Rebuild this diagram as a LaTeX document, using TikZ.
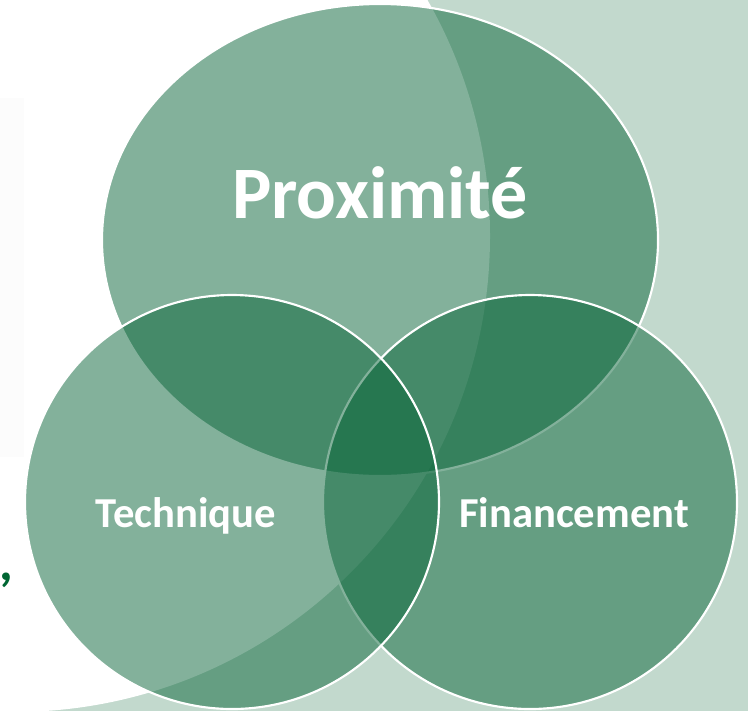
\documentclass[tikz,border=0pt]{standalone}
\usepackage{xcolor}
\usepackage{tikz}
\usepackage{fontspec}
\setmainfont{Carlito}
\definecolor{vennfill}{RGB}{9,101,57}
\definecolor{palebg}{RGB}{194,217,205}
\definecolor{commagreen}{RGB}{0,102,51}
\newcommand{\vennalpha}{0.5}

\begin{document}
\begin{tikzpicture}[x=0.75pt, y=0.75pt,
		vennset/.style={fill=vennfill, fill opacity=\vennalpha, draw=white, draw opacity=1, line width=1.6pt},
		venntext/.style={text=white, anchor=base, font=\bfseries\fontsize{32}{38}\selectfont}]
		\useasboundingbox (0,0) rectangle (748,-711);
		\clip (0,0) rectangle (748,-711);
		% Background
		\fill[palebg] (0,0) rectangle (748,-711);
		\fill[white] (14,-236) circle[radius=476];
		\fill[black!1] (0,-98) rectangle (24,-457);
		\node[text=commagreen, anchor=base, font=\bfseries\fontsize{40}{48}\selectfont, inner sep=0pt]
			(comma) at (6,-580) {,};
		% Sets
		\draw[vennset] (380,-240) ellipse[x radius=278, y radius=236];
		\draw[vennset] (530,-502) circle[radius=207];
		\draw[vennset] (232,-502) circle[radius=207];
		% Labels
		\node[venntext, font=\bfseries\fontsize{55.5}{62}\selectfont] (prox) at (380,-218) {Proximité};
		\node[venntext] (tech) at (186,-527) {Technique};
		\node[venntext] (fin) at (574,-527) {Financement};
	\end{tikzpicture}
\end{document}
